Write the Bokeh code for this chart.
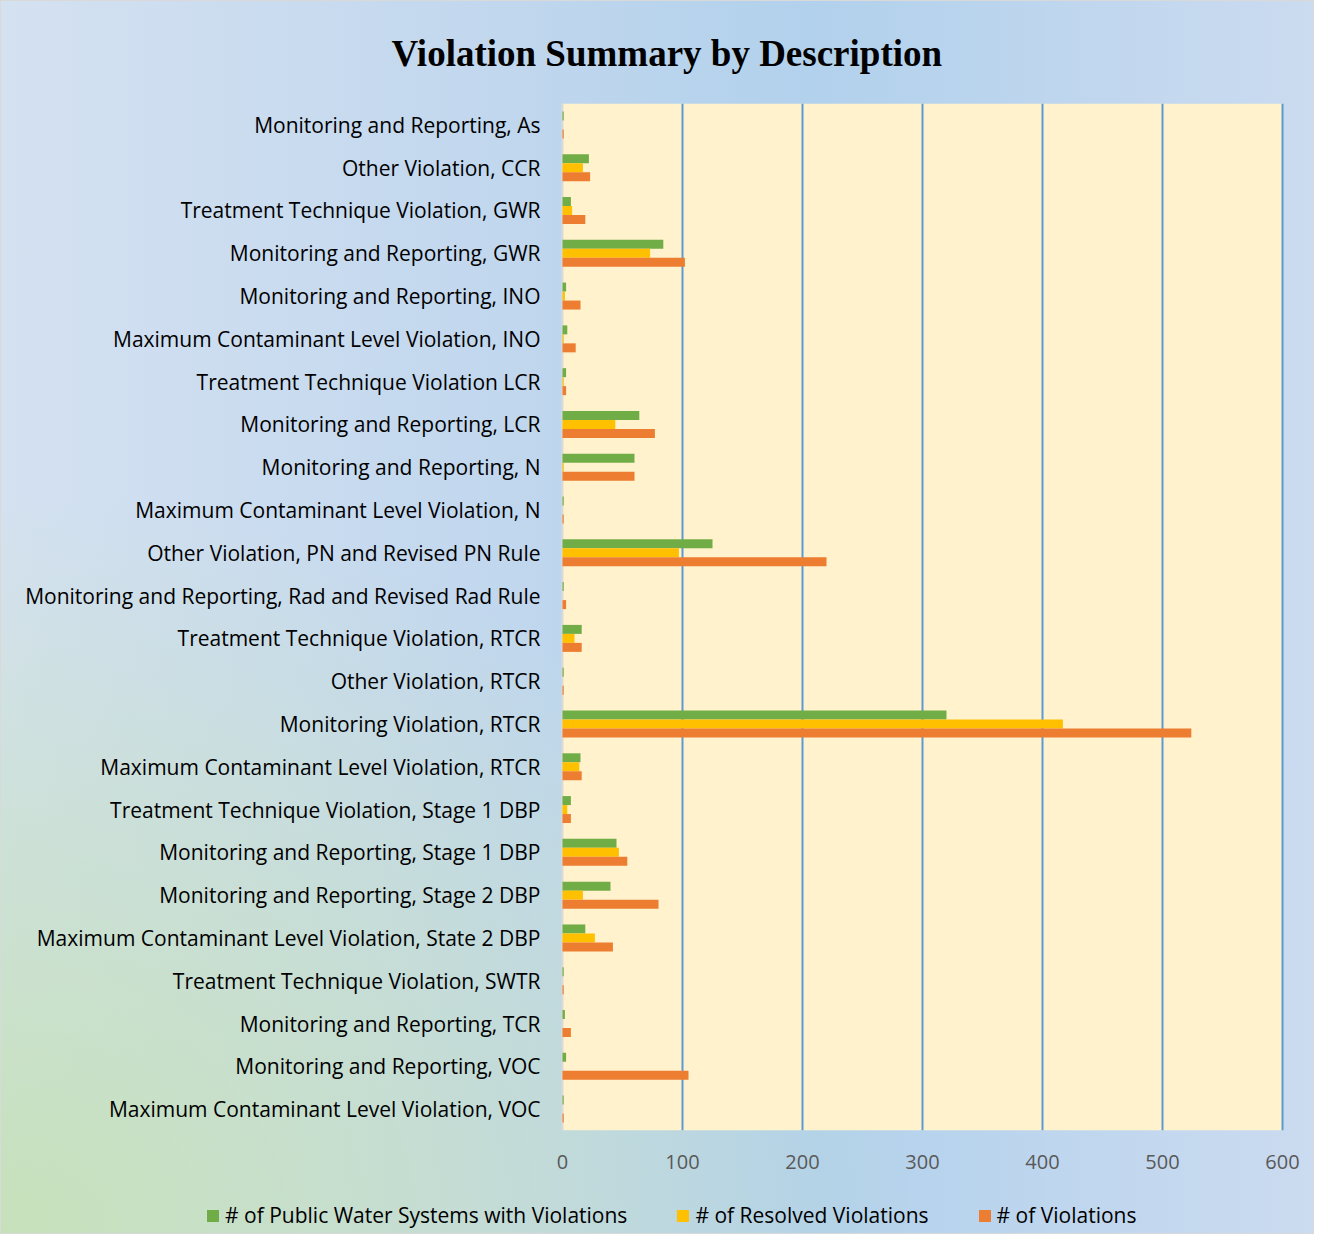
from bokeh.plotting import figure
from bokeh.layouts import column
from bokeh.models import (FactorRange, Range1d, FixedTicker, Legend, LegendItem,
                          ColumnDataSource, BoxAnnotation, Span)
from bokeh.core.properties import value
from bokeh.transform import dodge
from bokeh.embed import file_html
from bokeh.resources import INLINE

categories = [
    "Monitoring and Reporting, As",
    "Other Violation, CCR",
    "Treatment Technique Violation, GWR",
    "Monitoring and Reporting, GWR",
    "Monitoring and Reporting, INO",
    "Maximum Contaminant Level Violation, INO",
    "Treatment Technique Violation LCR",
    "Monitoring and Reporting, LCR",
    "Monitoring and Reporting, N",
    "Maximum Contaminant Level Violation, N",
    "Other Violation, PN and Revised PN Rule",
    "Monitoring and Reporting, Rad and Revised Rad Rule",
    "Treatment Technique Violation, RTCR",
    "Other Violation, RTCR",
    "Monitoring Violation, RTCR",
    "Maximum Contaminant Level Violation, RTCR",
    "Treatment Technique Violation, Stage 1 DBP",
    "Monitoring and Reporting, Stage 1 DBP",
    "Monitoring and Reporting, Stage 2 DBP",
    "Maximum Contaminant Level Violation, State 2 DBP",
    "Treatment Technique Violation, SWTR",
    "Monitoring and Reporting, TCR",
    "Monitoring and Reporting, VOC",
    "Maximum Contaminant Level Violation, VOC",
]
systems_with_violations = [1, 22, 7, 84, 3, 4, 3, 64, 60, 1, 125, 1, 16, 1, 320, 15, 7, 45, 40, 19, 1, 2, 3, 1]
resolved_violations = [0, 17, 8, 73, 2, 1, 1, 44, 1, 0, 97, 0, 10, 0, 417, 14, 4, 47, 17, 27, 0, 0, 0, 0]
violations = [1, 23, 19, 102, 15, 11, 3, 77, 60, 1, 220, 3, 16, 1, 524, 16, 7, 54, 80, 42, 1, 7, 105, 1]
x_ticks = [0, 100, 200, 300, 400, 500, 600]
series_names = ["# of Public Water Systems with Violations", "# of Resolved Violations", "# of Violations"]
title_text = "Violation Summary by Description"

src = ColumnDataSource(dict(cat=categories, s=systems_with_violations,
                            r=resolved_violations, v=violations))

# layout (pixels)
W = 1312
H_MAIN, H_LEG = 1180, 52
FRAME_LEFT = 20          # canvas x where the frame starts
ZERO_PX = 561            # canvas x of value 0
PX_PER_UNIT = 1.2        # 600 units -> 720 px
TOP, FRAME_BOTTOM = 101, 1129
x_start = -(ZERO_PX - FRAME_LEFT) / PX_PER_UNIT
x_end = (W - ZERO_PX) / PX_PER_UNIT

p = figure(width=W, height=H_MAIN, output_backend="svg", toolbar_location=None,
           y_range=FactorRange(factors=list(reversed(categories))),
           x_range=Range1d(x_start, x_end), y_axis_location=None,
           min_border_left=FRAME_LEFT, min_border_right=0,
           min_border_top=TOP, min_border_bottom=H_MAIN - FRAME_BOTTOM)
p.border_fill_color = None
p.background_fill_color = None
p.outline_line_color = None

# plot area fill and left edge line
p.add_layout(BoxAnnotation(left=x_ticks[0], right=x_ticks[-1], fill_color="#fff2cc",
                           fill_alpha=1, line_color=None, level="image"))
p.add_layout(Span(location=x_ticks[0], dimension="height", line_color="#d9d9d9",
                  line_width=2, level="underlay"))

p.title.text = title_text
p.title.align = "left"
p.title.offset = 390 - FRAME_LEFT
p.title.standoff = 59
p.title.text_font = "Liberation Serif"
p.title.text_font_style = "bold"
p.title.text_font_size = "37px"
p.title.text_color = "#000000"

bh = 0.21
colors = ["#70ad47", "#ffc000", "#ed7d31"]
keys = ["s", "r", "v"]
offsets = [bh, 0, -bh]
rs = []
for field, off, col in zip(keys, offsets, colors):
    r = p.hbar(y=dodge("cat", off, range=p.y_range), right=field, left=0, height=bh,
               source=src, fill_color=col, line_color=None)
    rs.append(r)

font = "Open Sans"
# category labels
p.text(x=0, y="cat", text="cat", source=src, x_offset=-22, text_align="right",
       text_baseline="middle", text_font=value(font), text_font_size="21px",
       text_color="#000000")

p.xaxis.ticker = FixedTicker(ticks=x_ticks)
p.xaxis.axis_line_color = None
p.xaxis.major_tick_line_color = None
p.xaxis.minor_tick_line_color = None
p.xaxis.major_label_text_font = font
p.xaxis.major_label_text_font_size = "20px"
p.xaxis.major_label_text_color = "#595959"
p.xaxis.major_label_standoff = 18

p.ygrid.grid_line_color = None
p.xgrid.ticker = FixedTicker(ticks=x_ticks[1:])
p.xgrid.grid_line_color = "#5b9bd5"
p.xgrid.grid_line_width = 2

# legend strip: same series, drawn outside its visible range so only the legend shows
lf = figure(width=W, height=H_LEG, output_backend="svg", toolbar_location=None,
            y_range=FactorRange(factors=list(reversed(categories))),
            x_range=Range1d(-10, -9), x_axis_location=None, y_axis_location=None,
            min_border_left=0, min_border_right=0, min_border_top=0, min_border_bottom=0)
lf.border_fill_color = None
lf.background_fill_color = None
lf.outline_line_color = None
lf.grid.visible = False
lrs = []
for field, off, col in zip(keys, offsets, colors):
    lrs.append(lf.hbar(y=dodge("cat", off, range=lf.y_range), right=field, left=0, height=bh,
                       source=src, fill_color=col, line_color=None))
legend = Legend(items=[LegendItem(label=n, renderers=[r]) for n, r in zip(series_names, lrs)],
                orientation="horizontal", location=(184, 4),
                padding=0, margin=0, spacing=48, label_standoff=5,
                glyph_width=15, glyph_height=15,
                label_text_font=font, label_text_font_size="21px", label_text_color="#000000",
                border_line_color=None, background_fill_alpha=0)
lf.add_layout(legend, "center")

layout = column(p, lf, spacing=0)
layout.styles = {
    "background-image": "radial-gradient(ellipse 70% 60% at 0% 100%, rgba(198,225,186,1) 0%, rgba(198,225,186,0) 100%), "
                        "linear-gradient(to right, #d4e1f1 0%, #c3d8ee 35%, #b2d1ec 62%, #cbdbf0 100%)",
    "border": "1px solid #d9d9d9",
    "box-sizing": "border-box",
}

open("out.html", "w").write(file_html(layout, INLINE))
